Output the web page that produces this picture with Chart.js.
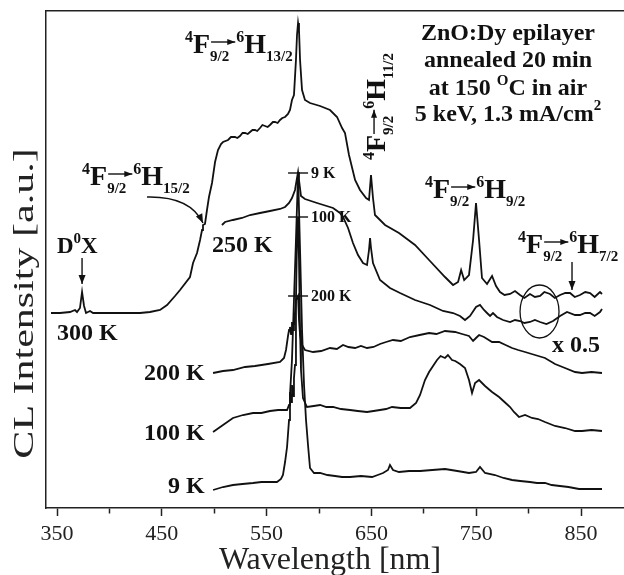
<!DOCTYPE html>
<html>
<head>
<meta charset="utf-8">
<title>ZnO:Dy CL spectra</title>
<script src="https://cdn.jsdelivr.net/npm/chart.js@4.4.1/dist/chart.umd.min.js"></script>
<style>
  html, body { margin: 0; padding: 0; background: #fff; overflow: hidden; }
  #wrap { width: 624px; height: 575px; }
</style>
</head>
<body>
<div id="wrap"><canvas id="clChart" width="624" height="575"></canvas></div>
<script>
// CL spectra of the ZnO:Dy epilayer, wavelength in nm, intensity in a.u. (curves offset)
const wl300 = [344.3, 352.9, 362.4, 367.2, 369.1, 371.9, 373.9, 375.8, 377.7, 381.5, 384.4, 391, 410.1, 429.2, 438.7, 448.3, 455, 462.6, 467.4, 476.9, 479.8, 483.6, 486.5, 488.4, 489.3, 491.2, 493.1, 495, 497.9, 500.8, 503.6, 506.5, 508.4, 513.2, 516, 519.8, 522, 524.6, 527, 529.4, 532, 534.2, 536.5, 538.9, 541, 543.7, 546, 548.5, 551, 553.2, 556, 558, 560.5, 562.8, 565, 567.6, 570.4, 572.3, 574.2, 576.1, 578, 579, 580, 580.9, 581.9, 583.8, 586.6, 591.4, 601, 610.5, 617.2, 622, 624.8, 628.6, 634.4, 639.1, 644.9, 647.7, 649.6, 651.5, 653.4, 663, 676.3, 691.6, 705, 720.2, 727.9, 732.7, 735.6, 738.5, 743.1, 747, 749.8, 752.7, 755.5, 760.3, 765.1, 768.9, 772.7, 777, 782.3, 787, 791.8, 796, 801.3, 806, 810.9, 815, 820.4, 825, 830, 835, 839.5, 844, 849, 854, 858.6, 863, 868.1, 870];
const cl300 = [195, 195, 196, 198, 196, 200, 216, 202, 195, 197, 195, 195, 195, 195, 196, 198, 203, 212, 218, 231, 245, 255, 268, 278, 283, 284, 298, 311, 325, 346, 358, 364, 366, 368, 371, 371, 370, 372, 375, 375, 374, 376, 378, 378, 377, 380, 383, 382, 381, 383, 386, 386, 385, 388, 390, 391, 394, 398, 408, 413, 448, 473, 485, 478, 448, 418, 408, 405, 402, 398, 391, 380, 375, 353, 328, 318, 310, 308, 333, 310, 293, 283, 275, 263, 248, 231, 223, 226, 238, 228, 233, 268, 305, 268, 230, 224, 232, 222, 216, 213, 214, 217, 213, 210, 214, 211, 212, 216, 214, 210, 213, 215, 215, 211, 213, 216, 215, 211, 216, 214];

const wl250 = [507.4, 510.3, 517.9, 526.5, 534.2, 543.7, 553.2, 562.8, 567.6, 571.4, 574.2, 577.1, 579, 580, 580.9, 582.8, 586.6, 598.1, 613.4, 620, 622.9, 627.7, 632.4, 637.2, 642, 645.8, 647.7, 648.7, 649.6, 651.5, 658.2, 667.7, 677.3, 691.6, 705.9, 718.3, 727.9, 734.5, 739.3, 744.1, 749.8, 753.6, 757.4, 760.3, 763.2, 766, 769.8, 775.6, 782.3, 787, 791.8, 796, 801.3, 806, 810.9, 817, 823.3, 830, 836.6, 844.3, 849, 854, 858.6, 863, 868.1, 870];
const cl250 = [283, 286, 288, 290, 293, 295, 297, 299, 301, 305, 310, 318, 330, 336, 328, 312, 309, 305, 300, 295, 291, 280, 265, 253, 245, 243, 258, 270, 260, 245, 228, 220, 215, 208, 203, 197, 195, 192, 188, 192, 201, 203, 198, 195, 192, 195, 191, 188, 186, 188, 187, 185, 186, 188, 186, 184, 187, 192, 196, 193, 193, 195, 195, 192, 196, 199];

const wl200 = [498.9, 508.4, 517.9, 529.4, 538.9, 551.3, 562.8, 566.6, 568.5, 570.4, 571.4, 572.3, 573.3, 574.2, 575.2, 576.1, 578, 580, 580.9, 581.9, 583.8, 586.6, 594.3, 602, 610.5, 617, 622.9, 628, 634.4, 640, 645.8, 652, 658.2, 664, 670.6, 678, 686.8, 696, 705, 712, 720.2, 729.8, 736.5, 743.1, 747, 749.8, 752.7, 757.4, 765.1, 771.8, 778, 784.2, 790, 796.6, 806.1, 815.6, 825.2, 834.7, 844.3, 851, 860, 870];
const cl200 = [135, 137, 138, 141, 142, 144, 146, 150, 158, 172, 178, 181, 174, 186, 178, 182, 208, 212, 188, 173, 163, 158, 156, 157, 160, 159, 163, 161, 160, 162, 160, 161, 164, 166, 168, 167, 171, 173, 175, 174, 177, 176, 174, 172, 167, 170, 173, 171, 166, 166, 163, 160, 158, 156, 153, 150, 144, 140, 136, 135, 136, 135];

const wl100 = [498.9, 508.4, 517.9, 527.5, 537, 545, 553.2, 561, 569.5, 571.4, 572.3, 573.3, 574.2, 575.2, 576.1, 577.1, 578, 579, 580, 580.9, 581.9, 582.8, 584.7, 588.5, 595, 601, 607, 613.4, 621, 629.6, 637, 645.8, 652, 658.2, 664, 669.7, 678, 686.8, 692.6, 696.4, 701.1, 705, 708.8, 712.6, 716, 720.2, 723, 726.9, 730, 734.5, 739.3, 743.1, 746, 748.9, 752.7, 758.4, 765.1, 771.8, 777, 782.3, 786, 790.8, 796.6, 803.2, 809, 815.6, 825.2, 834.7, 844.3, 851, 860, 870];
const cl100 = [76, 83, 90, 93, 95, 95, 97, 98, 98, 103, 116, 106, 123, 112, 130, 143, 208, 268, 291, 248, 178, 138, 110, 101, 102, 103, 101, 101, 99, 98, 97, 96, 97, 98, 99, 101, 100, 100, 105, 113, 128, 136, 142, 148, 152, 150, 153, 148, 147, 144, 140, 128, 115, 125, 128, 122, 116, 111, 106, 101, 96, 91, 93, 90, 89, 86, 82, 80, 77, 77, 78, 77];

const wl9 = [498.9, 508.4, 517.9, 527, 537, 545, 553.2, 559.9, 563.7, 565.6, 567.6, 569.5, 571.4, 572.3, 574.2, 576.1, 578, 580, 581.9, 583.8, 585.7, 587.6, 589.5, 591.4, 595.2, 601, 608, 615.3, 622, 629.6, 640, 650.6, 656, 661.1, 665.8, 667.7, 670.6, 676.3, 686, 696.4, 708, 720.2, 732, 743.1, 749.8, 753.6, 758.4, 767.9, 776, 784.2, 792, 801.3, 808, 815.6, 822, 829.9, 838, 848.1, 858, 870];
const cl9 = [18, 21, 23, 24, 25, 26, 26, 26, 29, 33, 46, 61, 88, 113, 148, 208, 268, 335, 258, 178, 123, 88, 63, 40, 35, 35, 33, 32, 31, 31, 32, 31, 33, 35, 38, 43, 38, 36, 37, 37, 38, 39, 37, 35, 36, 41, 35, 33, 30, 28, 27, 26, 25, 25, 23, 22, 21, 19, 19, 19];

const temperatures = ['300 K', '250 K', '200 K', '100 K', '9 K'];
const wavelengths = [wl300, wl250, wl200, wl100, wl9];
const intensities = [cl300, cl250, cl200, cl100, cl9];

// the 580 nm line is cut off on the low-T spectra; these get a mark at their peak
const markedPeaks = ['9 K', '100 K', '200 K'];

// x axis: ticks every 50 nm, labels every 100 nm
const xTicks = [350, 400, 450, 500, 550, 600, 650, 700, 750, 800, 850];
const xLabels = ['350', '', '450', '', '550', '', '650', '', '750', '', '850'];

const xMin = 339.5, xMax = 891;
const yMin = 0, yMax = 497;

const SERIF = '"Liberation Serif", "Times New Roman", serif';
const INK = '#111';
const AXIS = '#222';

const BIG = 'bold 28px ' + SERIF;
const SUP = 'bold 16px ' + SERIF;
const SUB = 'bold 15px ' + SERIF;
const LABEL = 'bold 24px ' + SERIF;

const labelFor = v => {
    const i = xTicks.indexOf(v);
    return i < 0 ? '' : xLabels[i];
};

function arrowHead(ctx, x0, y0, x1, y1, len, half) {
    const a = Math.atan2(y1 - y0, x1 - x0);
    const c = Math.cos(a), s = Math.sin(a);
    ctx.beginPath();
    ctx.moveTo(x1, y1);
    ctx.lineTo(x1 - len * c + half * s, y1 - len * s - half * c);
    ctx.lineTo(x1 - len * c - half * s, y1 - len * s + half * c);
    ctx.closePath();
    ctx.fill();
}

function arrow(ctx, x0, y0, x1, y1, len, half) {
    ctx.beginPath();
    ctx.moveTo(x0, y0);
    ctx.lineTo(x1, y1);
    ctx.stroke();
    arrowHead(ctx, x0, y0, x1, y1, len, half);
}

// draws runs of [text, font, dy] one after another starting at x
function drawRuns(ctx, x, y, runs) {
    let cx = x;
    runs.forEach(([txt, font, dy]) => {
        ctx.font = font;
        ctx.fillText(txt, cx, y + dy);
        cx += ctx.measureText(txt).width;
    });
    return cx;
}

function runsWidth(ctx, runs) {
    let w = 0;
    runs.forEach(([txt, font]) => { ctx.font = font; w += ctx.measureText(txt).width; });
    return w;
}

// Dy3+ transition 4F9/2 -> 6H(j), with the arrow over the 9/2 subscript
function drawTerm(ctx, x, y, j) {
    let cx = drawRuns(ctx, x, y, [['4', SUP, -11], ['F', BIG, 0]]);
    const a0 = cx;
    cx = drawRuns(ctx, cx, y, [['9/2', SUB, 8]]);
    const a1 = cx + 6;
    ctx.lineWidth = 1.4;
    arrow(ctx, a0 + 1, y - 11, a1, y - 11, 8, 3);
    drawRuns(ctx, a1 + 1, y, [['6', SUP, -11], ['H', BIG, 0], [j, SUB, 8]]);
}

const annotations = {
    id: 'annotations',
    beforeDraw(chart) {
        const ctx = chart.ctx;
        ctx.save();
        ctx.fillStyle = '#fff';
        ctx.fillRect(0, 0, chart.width, chart.height);
        ctx.restore();
    },
    afterDatasetsDraw(chart) {
        const { ctx, scales: { x, y } } = chart;
        const px = v => x.getPixelForValue(v);
        const py = v => y.getPixelForValue(v);

        ctx.save();
        ctx.fillStyle = INK;
        ctx.strokeStyle = INK;
        ctx.textBaseline = 'alphabetic';
        ctx.textAlign = 'left';

        // transition labels
        drawTerm(ctx, px(472.1), py(455), '13/2');
        drawTerm(ctx, px(373.9), py(323), '15/2');
        drawTerm(ctx, px(701.1), py(310), '9/2');
        drawTerm(ctx, px(789.9), py(255), '7/2');
        ctx.save();
        ctx.translate(px(663), py(348));
        ctx.rotate(-Math.PI / 2);
        drawTerm(ctx, 0, 0, '11/2');
        ctx.restore();

        // curved pointer to the 6H15/2 shoulder
        const p0 = [px(435.9), py(311)], pc = [px(476.9), py(312)], p2 = [px(489.3), py(285)];
        ctx.lineWidth = 1.4;
        ctx.beginPath();
        ctx.moveTo(p0[0], p0[1]);
        ctx.quadraticCurveTo(pc[0], pc[1], p2[0], p2[1]);
        ctx.stroke();
        arrowHead(ctx, pc[0], pc[1], p2[0], p2[1], 9, 3.5);

        // donor-bound exciton
        drawRuns(ctx, px(350), py(255), [['D', 'bold 23px ' + SERIF, 0], ['0', 'bold 15px ' + SERIF, -10], ['X', 'bold 23px ' + SERIF, 0]]);
        arrow(ctx, px(373.9), py(250), px(373.9), py(224), 9, 3.5);
        arrow(ctx, px(841.4), py(246), px(841.4), py(218), 9, 3.5);

        // temperature labels
        ctx.font = LABEL;
        ctx.fillText('300 K', px(350), py(168));
        ctx.fillText('250 K', px(497.9), py(256));
        ctx.textAlign = 'right';
        ctx.fillText('200 K', px(490.8), py(128));
        ctx.fillText('100 K', px(490.8), py(68));
        ctx.fillText('9 K', px(490.8), py(15));
        ctx.textAlign = 'left';

        // peak heights of the 580 nm line
        ctx.font = 'bold 16px ' + SERIF;
        ctx.textBaseline = 'middle';
        ctx.lineWidth = 1.4;
        chart.data.datasets.forEach(ds => {
            if (!markedPeaks.includes(ds.label)) return;
            let top = ds.data[0];
            ds.data.forEach(p => { if (p.y > top.y) top = p; });
            const tx = px(top.x), ty = py(top.y);
            ctx.beginPath();
            ctx.moveTo(tx - 10, ty);
            ctx.lineTo(tx + 10, ty);
            ctx.stroke();
            ctx.fillText(ds.label, tx + 13, ty + 1);
        });
        ctx.textBaseline = 'alphabetic';

        // scaled section of the 250 K trace
        const ex = px(810.4), ey = py(196.5);
        ctx.lineWidth = 1.3;
        ctx.beginPath();
        ctx.ellipse(ex, ey, px(810.4 + 18.6) - ex, ey - py(196.5 + 26.5), 0, 0, Math.PI * 2);
        ctx.stroke();
        ctx.font = LABEL;
        ctx.fillText('x 0.5', px(822.3), py(156));

        // sample / excitation conditions
        const cx = px(780.3);
        const lines = [
            [['ZnO:Dy epilayer', LABEL, 0]],
            [['annealed 20 min', LABEL, 0]],
            [['at 150 ', LABEL, 0], ['O', 'bold 15px ' + SERIF, -10], ['C in air', LABEL, 0]],
            [['5 keV, 1.3 mA/cm', LABEL, 0], ['2', 'bold 15px ' + SERIF, -11]]
        ];
        const baselines = [468, 441, 413, 387];
        lines.forEach((runs, i) => {
            drawRuns(ctx, cx - runsWidth(ctx, runs) / 2, py(baselines[i]), runs);
        });

        ctx.restore();
    },
    afterDraw(chart) {
        const { ctx, chartArea } = chart;
        ctx.save();
        ctx.fillStyle = AXIS;
        ctx.textBaseline = 'alphabetic';
        ctx.textAlign = 'center';
        ctx.font = '32px ' + SERIF;
        ctx.fillText('Wavelength [nm]', 330, 569);
        ctx.translate(33, (chartArea.top + chartArea.bottom) / 2 + 44);
        ctx.rotate(-Math.PI / 2);
        ctx.scale(1.4, 1);
        ctx.font = '30px ' + SERIF;
        ctx.fillText('CL Intensity [a.u.]', 0, 0);
        ctx.restore();
    }
};

const datasets = temperatures.map((t, k) => ({
    label: t,
    data: wavelengths[k].map((w, i) => ({ x: w, y: intensities[k][i] })),
    borderColor: INK,
    borderWidth: 1.8,
    pointRadius: 0,
    tension: 0,
    fill: false
}));

const borderStyle = { display: true, color: AXIS, width: 1.5 };

new Chart(document.getElementById('clChart'), {
    type: 'line',
    data: { datasets },
    options: {
        responsive: false,
        animation: false,
        events: [],
        layout: { padding: 0 },
        plugins: { legend: { display: false }, tooltip: { enabled: false } },
        scales: {
            x: {
                type: 'linear',
                position: 'bottom',
                min: xMin,
                max: xMax,
                afterBuildTicks: s => { s.ticks = xTicks.map(v => ({ value: v })); },
                ticks: {
                    autoSkip: false,
                    maxRotation: 0,
                    padding: 5,
                    color: AXIS,
                    font: { family: SERIF, size: 22, lineHeight: 1.2 },
                    callback: v => labelFor(v)
                },
                grid: {
                    drawOnChartArea: false,
                    drawTicks: true,
                    tickLength: 8,
                    tickWidth: 1.5,
                    tickColor: AXIS,
                    tickBorderDash: c => (c.tick && labelFor(c.tick.value) === '') ? [5, 20] : []
                },
                border: borderStyle,
                afterFit: s => { s.height = 67; }
            },
            xTop: {
                type: 'linear',
                position: 'top',
                min: xMin,
                max: xMax,
                ticks: { display: false },
                grid: { display: false, drawTicks: false },
                border: borderStyle,
                afterFit: s => { s.height = 11; }
            },
            y: {
                type: 'linear',
                min: yMin,
                max: yMax,
                ticks: { display: false },
                grid: { display: false, drawTicks: false },
                border: borderStyle,
                afterFit: s => { s.width = 46; }
            }
        }
    },
    plugins: [annotations]
});
</script>
</body>
</html>
